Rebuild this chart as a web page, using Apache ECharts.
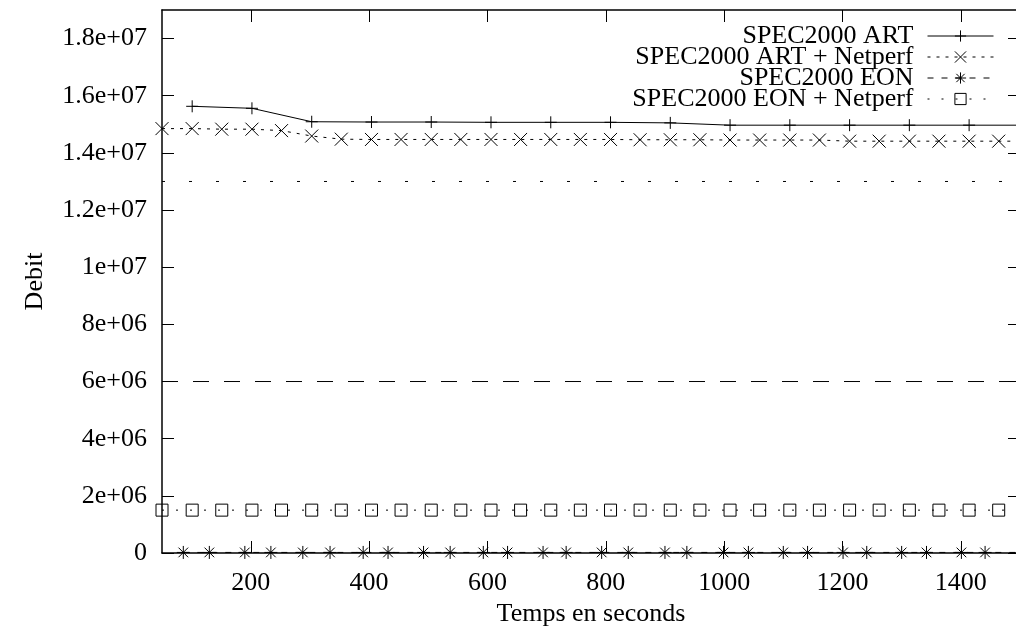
<!DOCTYPE html>
<html>
<head>
<meta charset="utf-8">
<script src="https://cdn.jsdelivr.net/npm/echarts@6/dist/echarts.min.js"></script>
<style>html,body{margin:0;padding:0;background:#fff;}#c{width:1016px;height:628px;}</style>
</head>
<body>
<div id="c"></div>
<script>
// ---- data ----
const seriesNames = ['SPEC2000 ART', 'SPEC2000 ART + Netperf', 'SPEC2000 EON', 'SPEC2000 EON + Netperf'];
const xTicks = [200, 400, 600, 800, 1000, 1200, 1400];
const yTicks = [0, 2e6, 4e6, 6e6, 8e6, 1e7, 1.2e7, 1.4e7, 1.6e7, 1.8e7];

const artX = [101, 202, 303, 404, 505, 606, 707, 808, 909, 1010, 1111, 1212, 1313, 1414, 1515];
const artY = [15.63e6, 15.56e6, 15.09e6, 15.08e6, 15.08e6, 15.07e6, 15.07e6, 15.07e6, 15.05e6, 14.97e6, 14.97e6, 14.97e6, 14.97e6, 14.97e6, 14.97e6];

const netX = [50, 101, 151, 202, 252, 303, 353, 404, 454, 505, 555, 606, 656, 707, 757, 808, 858, 909, 959, 1010, 1060, 1111, 1161, 1212, 1262, 1313, 1363, 1414, 1464, 1515];
const artNetY = [14.85e6, 14.85e6, 14.83e6, 14.83e6, 14.78e6, 14.59e6, 14.48e6, 14.47e6, 14.47e6, 14.47e6, 14.47e6, 14.47e6, 14.47e6, 14.47e6, 14.47e6, 14.47e6, 14.46e6, 14.46e6, 14.46e6, 14.45e6, 14.45e6, 14.45e6, 14.45e6, 14.41e6, 14.41e6, 14.41e6, 14.41e6, 14.41e6, 14.41e6, 14.41e6];

const eonX = [86, 130, 190, 234, 288, 334, 390, 432, 492, 537, 593, 634, 694, 733, 793, 838, 900, 937, 999, 1041, 1100, 1141, 1201, 1241, 1300, 1342, 1401, 1441, 1502];
const eonY = [2e4, 2e4, 2e4, 2e4, 2e4, 2e4, 2e4, 2e4, 2e4, 2e4, 2e4, 2e4, 2e4, 2e4, 2e4, 2e4, 2e4, 2e4, 2e4, 2e4, 2e4, 2e4, 2e4, 2e4, 2e4, 2e4, 2e4, 2e4, 2e4];

const eonNetY = [1.5e6, 1.5e6, 1.5e6, 1.5e6, 1.5e6, 1.5e6, 1.5e6, 1.5e6, 1.5e6, 1.5e6, 1.5e6, 1.5e6, 1.5e6, 1.5e6, 1.5e6, 1.5e6, 1.5e6, 1.5e6, 1.5e6, 1.5e6, 1.5e6, 1.5e6, 1.5e6, 1.5e6, 1.5e6, 1.5e6, 1.5e6, 1.5e6, 1.5e6, 1.5e6];

const refLevels = [1.3e7, 6e6];
const refX = [50, 1500];

// ---- helpers ----
const zip = (xs, ys) => xs.map((x, i) => [x, ys[i]]);
const FONT = 'Liberation Serif';
const FS = 26;
function fmtY(v) {
  if (v === 0) return '0';
  const s = v.toExponential();
  const parts = s.split('e');
  let sign = parts[1][0], d = parts[1].slice(1);
  if (d.length < 2) d = '0' + d;
  return parts[0] + 'e' + sign + d;
}
const P_PLUS = 'path://M5 0L5 10M0 5L10 5';
const P_X = 'path://M0 0L10 10M10 0L0 10';
const P_STAR = 'path://M5 0L5 10M0 5L10 5M1.3 1.3L8.7 8.7M8.7 1.3L1.3 8.7';
const P_SQ = 'path://M0 0L10 0L10 10L0 10Z';

const axisLineStyle = { color: '#000', width: 1.5 };
const tickStyle = { color: '#000', width: 1 };

const chart = echarts.init(document.getElementById('c'), null, { renderer: 'canvas' });
chart.setOption({
  animation: false,
  backgroundColor: '#fff',
  grid: { left: 162, top: 10, width: 858, height: 543, containLabel: false, outerBoundsMode: 'none' },
  legend: {
    data: seriesNames,
    orient: 'vertical',
    align: 'right',
    right: 17,
    top: 18,
    itemWidth: 66,
    itemHeight: 14,
    itemGap: -5,
    selectedMode: false,
    itemStyle: { borderWidth: 1 },
    lineStyle: { width: 1 },
    textStyle: { fontFamily: FONT, fontSize: FS, color: '#000', padding: [0, 9, 0, 0] }
  },
  xAxis: [{
    type: 'value', min: 50, max: 1500, position: 'bottom',
    name: 'Temps en seconds', nameLocation: 'middle', nameGap: 41,
    nameTextStyle: { fontFamily: FONT, fontSize: FS, color: '#000' },
    axisLine: { show: true, onZero: false, lineStyle: axisLineStyle },
    axisTick: { show: true, inside: true, length: 12, lineStyle: tickStyle, customValues: xTicks },
    axisLabel: { show: true, margin: 17, fontFamily: FONT, fontSize: FS, color: '#000', customValues: xTicks, formatter: v => String(v) },
    splitLine: { show: false }
  }, {
    type: 'value', min: 50, max: 1500, position: 'top',
    axisLine: { show: true, onZero: false, lineStyle: axisLineStyle },
    axisTick: { show: true, inside: true, length: 12, lineStyle: tickStyle, customValues: xTicks },
    axisLabel: { show: false },
    splitLine: { show: false }
  }],
  yAxis: [{
    type: 'value', min: 0, max: 1.9e7, position: 'left',
    name: 'Debit', nameLocation: 'middle', nameGap: 114, nameRotate: 90,
    nameTextStyle: { fontFamily: FONT, fontSize: FS, color: '#000' },
    axisLine: { show: true, onZero: false, lineStyle: axisLineStyle },
    axisTick: { show: true, inside: true, length: 12, lineStyle: tickStyle, customValues: yTicks },
    axisLabel: { show: true, margin: 15, fontFamily: FONT, fontSize: FS, color: '#000', customValues: yTicks, formatter: fmtY },
    splitLine: { show: false }
  }, {
    type: 'value', min: 0, max: 1.9e7, position: 'right',
    axisLine: { show: true, onZero: false, lineStyle: axisLineStyle },
    axisTick: { show: true, inside: true, length: 12, lineStyle: tickStyle, customValues: yTicks },
    axisLabel: { show: false },
    splitLine: { show: false }
  }],
  series: [
    {
      name: seriesNames[0], type: 'line', data: zip(artX, artY),
      symbol: P_PLUS, symbolSize: 12, symbolKeepAspect: true,
      itemStyle: { color: '#000', borderColor: '#000', borderWidth: 1 },
      lineStyle: { color: '#000', width: 1, type: 'solid' }, z: 5
    },
    {
      name: seriesNames[1], type: 'line', data: zip(netX, artNetY),
      symbol: P_X, symbolSize: 13, symbolKeepAspect: true,
      itemStyle: { color: '#000', borderColor: '#000', borderWidth: 1 },
      lineStyle: { color: '#000', width: 1, type: [3, 6] }, z: 5
    },
    {
      name: seriesNames[2], type: 'line', data: zip(eonX, eonY),
      symbol: P_STAR, symbolSize: 13, symbolKeepAspect: true,
      itemStyle: { color: '#000', borderColor: '#000', borderWidth: 1 },
      lineStyle: { color: '#000', width: 1, type: [6, 8] }, z: 5
    },
    {
      name: seriesNames[3], type: 'line', data: zip(netX, eonNetY),
      symbol: P_SQ, symbolSize: 12, symbolKeepAspect: true,
      itemStyle: { color: 'none', borderColor: '#000', borderWidth: 1 },
      lineStyle: { color: '#000', width: 1, type: [2, 12] }, z: 5
    },
    {
      name: 'ref-high', type: 'line', data: refX.map(x => [x, refLevels[0]]),
      symbol: 'none', silent: true,
      lineStyle: { color: '#000', width: 1, type: [3, 24], dashOffset: 0 }, z: 3
    },
    {
      name: 'ref-low', type: 'line', data: refX.map(x => [x, refLevels[1]]),
      symbol: 'none', silent: true,
      lineStyle: { color: '#000', width: 1, type: [16, 15], dashOffset: 0 }, z: 3
    }
  ]
});
</script>
</body>
</html>
